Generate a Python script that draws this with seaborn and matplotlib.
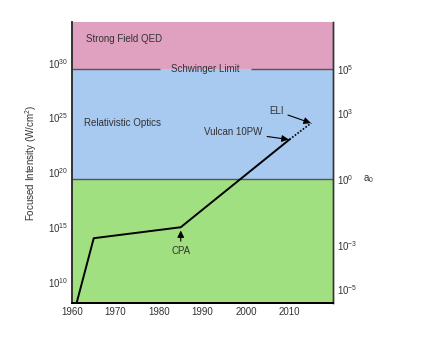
import matplotlib
matplotlib.use("Agg")
import matplotlib.pyplot as plt
import seaborn as sns
import pandas as pd
import numpy as np

# history of peak focused laser intensity (log10 W/cm^2)
years = [1961, 1965, 1985, 2010]
log_intensity = [8.0, 14.0, 15.0, 23.0]
future_years = [2010, 2015]
future_log_intensity = [23.0, 24.5]

# regime boundaries (log10 W/cm^2)
relativistic_limit = 19.4
schwinger_limit = 29.4

left_ticks = [10, 15, 20, 25, 30]
right_ticks = [-5, -3, 0, 3, 5]

sns.set_style("white")
plt.rcParams['font.family'] = ['Liberation Sans', 'DejaVu Sans']
plt.rcParams['mathtext.fontset'] = 'custom'
plt.rcParams['mathtext.rm'] = 'Liberation Sans'
plt.rcParams['mathtext.it'] = 'Liberation Sans'
plt.rcParams['mathtext.default'] = 'regular'

fig = plt.figure(figsize=(4.4, 3.4), dpi=100)
ax = fig.add_axes([0.1636, 0.109, 0.5932, 0.826])

ymin, ymax = 10.0 ** 8.1, 10.0 ** 33.7
ax.set_yscale("log")
ax.set_xlim(1960, 2020)
ax.set_ylim(ymin, ymax)

# coloured regimes
ax.axhspan(ymin, 10.0 ** relativistic_limit, color="#a1e080", lw=0, zorder=0)
ax.axhspan(10.0 ** relativistic_limit, 10.0 ** schwinger_limit, color="#a8c9f0", lw=0, zorder=0)
ax.axhspan(10.0 ** schwinger_limit, ymax, color="#e0a0c0", lw=0, zorder=0)
ax.axhline(10.0 ** relativistic_limit, color="#555555", lw=1, zorder=1)
ax.hlines([10.0 ** schwinger_limit] * 2, [1960, 2001.2], [1980.2, 2020], color="#555555", lw=1, zorder=1)
ax.text(1990.6, 10.0 ** schwinger_limit, "Schwinger Limit", ha="center", va="center",
        fontsize=7, color="#333333")

df = pd.DataFrame({"year": years, "intensity": [10.0 ** v for v in log_intensity]})
df_future = pd.DataFrame({"year": future_years, "intensity": [10.0 ** v for v in future_log_intensity]})
sns.lineplot(data=df, x="year", y="intensity", color="black", lw=1.4, ax=ax, zorder=3)
sns.lineplot(data=df_future, x="year", y="intensity", color="black", lw=1.2,
             linestyle=(0, (1, 1)), ax=ax, zorder=3)

ax.text(1963.2, 10.0 ** 32.2, "Strong Field QED", fontsize=7, color="#333333", va="center")
ax.text(1962.8, 10.0 ** 24.5, "Relativistic Optics", fontsize=7, color="#333333", va="center")

arrow = dict(arrowstyle="-|>", color="black", lw=0.8, mutation_scale=10, shrinkA=1, shrinkB=0)
ax.annotate("CPA", xy=(1985, 10.0 ** 14.7), xytext=(1985, 10.0 ** 12.85), ha="center", va="center",
            fontsize=7, color="#333333", arrowprops=arrow)
ax.annotate("Vulcan 10PW", xy=(2009.8, 10.0 ** 23.0), xytext=(2003.8, 10.0 ** 23.7), ha="right",
            va="center", fontsize=7, color="#333333", arrowprops=arrow)
ax.annotate("ELI", xy=(2014.9, 10.0 ** 24.5), xytext=(2008.6, 10.0 ** 25.6), ha="right",
            va="center", fontsize=7, color="#333333", arrowprops=arrow)

ax.set_xticks([1960, 1970, 1980, 1990, 2000, 2010])
ax.set_yticks([10.0 ** t for t in left_ticks])
ax.set_yticklabels([f"$10^{{{t}}}$" for t in left_ticks])
ax.minorticks_off()
ax.tick_params(axis="both", length=0, labelsize=7, labelcolor="#333333", pad=3)
ax.set_xlabel("")
ax.set_ylabel("Focused Intensity (W/cm$^2$)", fontsize=7, color="#333333")
ax.yaxis.set_label_coords(-0.126, 0.5)

# normalised vector potential a0 ~ sqrt(I)
ax2 = ax.twinx()
ax2.set_yscale("log")
ax2.set_ylim(np.sqrt(ymin / 10.0 ** relativistic_limit), np.sqrt(ymax / 10.0 ** relativistic_limit))
ax2.set_yticks([10.0 ** t for t in right_ticks])
ax2.set_yticklabels([f"$10^{{{t}}}$" for t in right_ticks])
ax2.minorticks_off()
ax2.tick_params(axis="y", length=0, labelsize=7, labelcolor="#333333", pad=3)
ax2.text(1.115, 1.0, "a$_0$", transform=ax2.get_yaxis_transform(), fontsize=7,
         color="#333333", va="center")

for a in (ax, ax2):
    a.spines["top"].set_visible(False)
    a.spines["left"].set_color("#333333")
    a.spines["left"].set_linewidth(1.2)
    a.spines["bottom"].set_color("black")
    a.spines["bottom"].set_linewidth(1.4)
    a.spines["right"].set_color("#333333")
    a.spines["right"].set_linewidth(1.0)

fig.savefig("out.png", dpi=100)
